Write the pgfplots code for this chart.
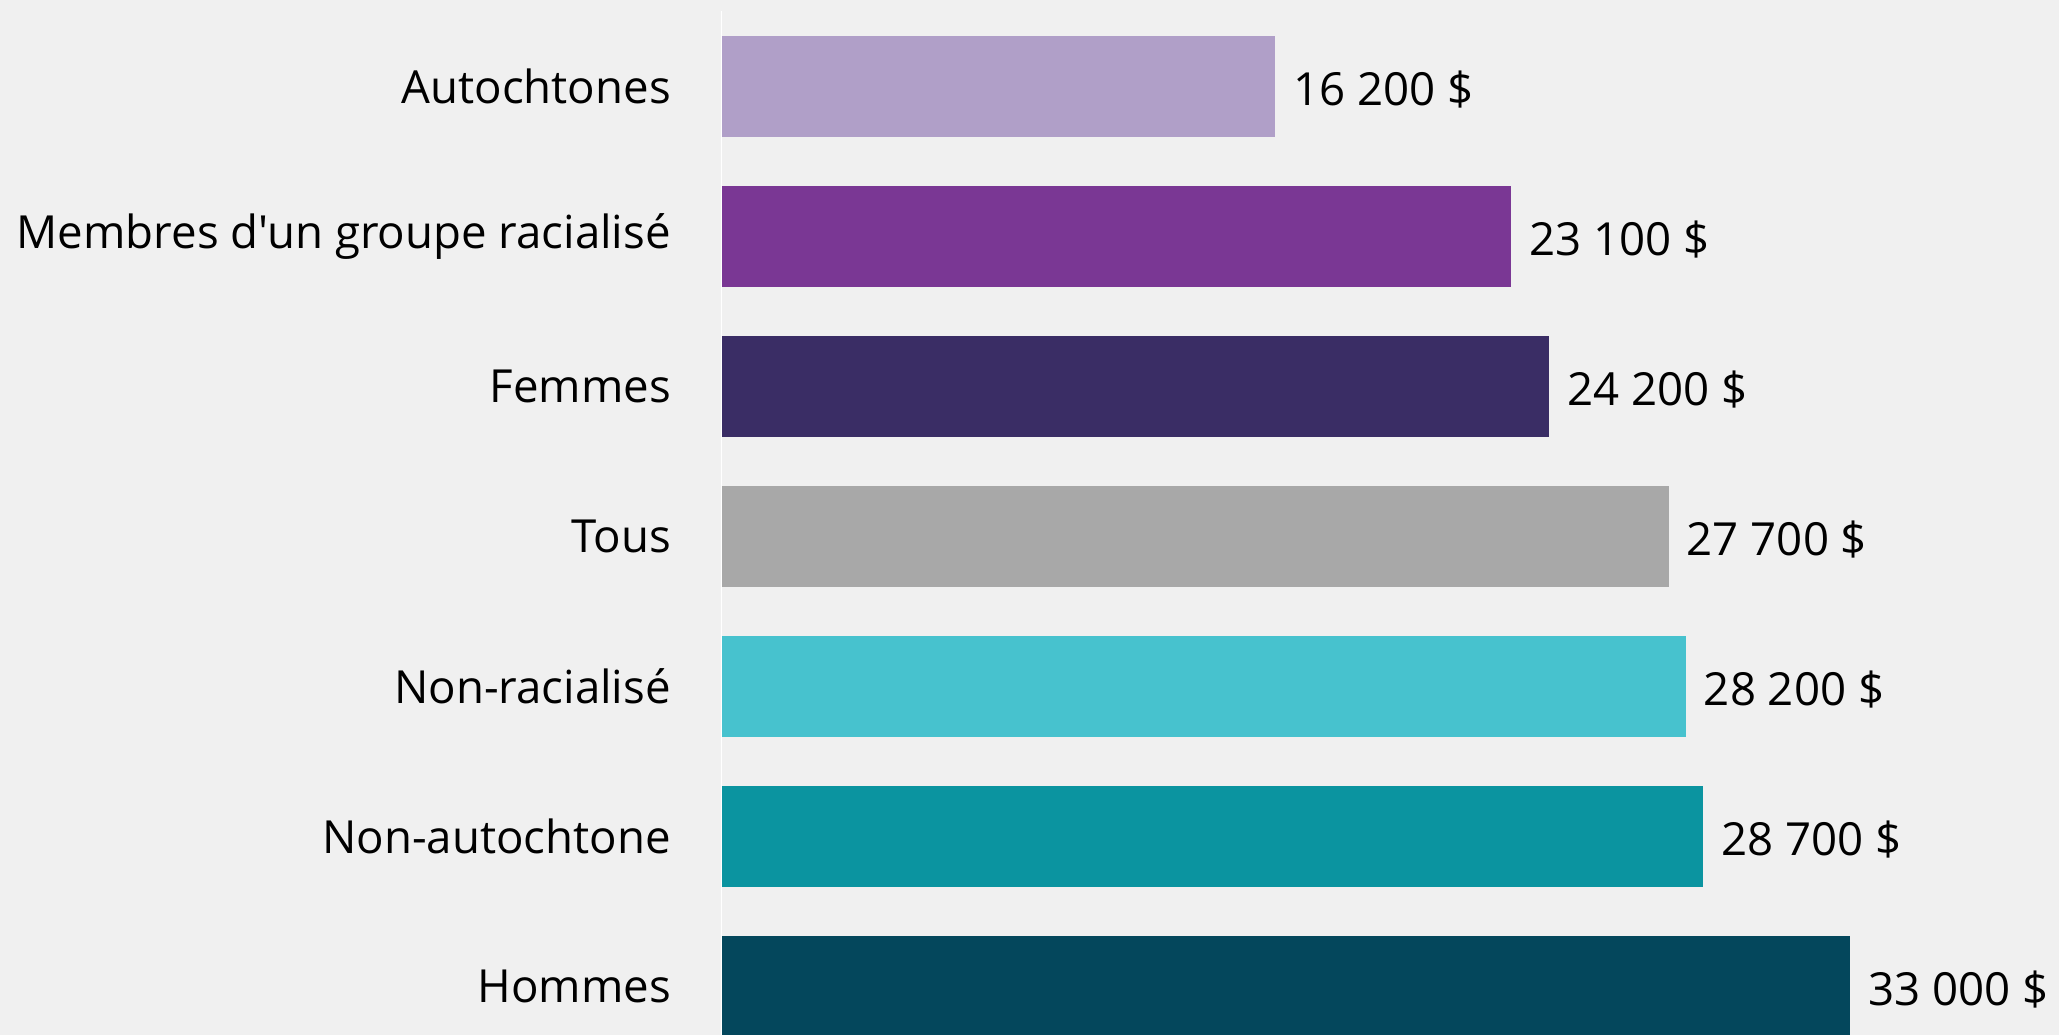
\documentclass[border=0pt]{standalone}
\usepackage{pgfplots}
\pgfplotsset{compat=1.18}
\usepackage{fontspec}
\setmainfont{Open Sans}[Ligatures=TeXOff]
\definecolor{bg}{HTML}{F0F0F0}
\definecolor{c1}{HTML}{B09FC8}
\definecolor{c2}{HTML}{7A3794}
\definecolor{c3}{HTML}{3A2D65}
\definecolor{c4}{HTML}{A8A8A8}
\definecolor{c5}{HTML}{47C2CE}
\definecolor{c6}{HTML}{0B94A0}
\definecolor{c7}{HTML}{04475C}
\begin{document}
\begin{tikzpicture}
\fill[bg] (0,0) rectangle (2059bp,1035bp);
\begin{axis}[
  at={(721bp,0bp)}, anchor=south west,
  scale only axis, width=1338bp, height=1035bp,
  xbar, bar shift=0pt, bar width=0.673,
  xmin=0, xmax=39109,
  ymin=-0.3233, ymax=6.5767,
  axis line style={draw=none},
  xtick=\empty,
  ytick={0,1,2,3,4,5,6},
  yticklabels={Hommes,Non-autochtone,Non-racialisé,Tous,Femmes,Membres d'un groupe racialisé,Autochtones},
  major tick length=0pt,
  yticklabel style={anchor=east, inner sep=0pt, xshift=-50bp, font=\fontsize{45.6bp}{55bp}\selectfont, text=black},
  point meta=explicit symbolic,
  nodes near coords,
  every node near coord/.append style={anchor=west, inner sep=0pt, xshift=18bp, yshift=-3bp, font=\fontsize{45.6bp}{55bp}\selectfont, text=black},
]
\addplot[fill=c1, draw=none] coordinates {(16200,6) [16 200 \$]};
\addplot[fill=c2, draw=none] coordinates {(23100,5) [23 100 \$]};
\addplot[fill=c3, draw=none] coordinates {(24200,4) [24 200 \$]};
\addplot[fill=c4, draw=none] coordinates {(27700,3) [27 700 \$]};
\addplot[fill=c5, draw=none] coordinates {(28200,2) [28 200 \$]};
\addplot[fill=c6, draw=none] coordinates {(28700,1) [28 700 \$]};
\addplot[fill=c7, draw=none] coordinates {(33000,0) [33 000 \$]};
\draw[white, line width=2.5bp] (axis cs:0,6.5033) -- (axis cs:0,-0.3233);
\end{axis}
\pgfresetboundingbox
\path[use as bounding box] (0,0) rectangle (2059bp,1035bp);
\end{tikzpicture}
\end{document}
